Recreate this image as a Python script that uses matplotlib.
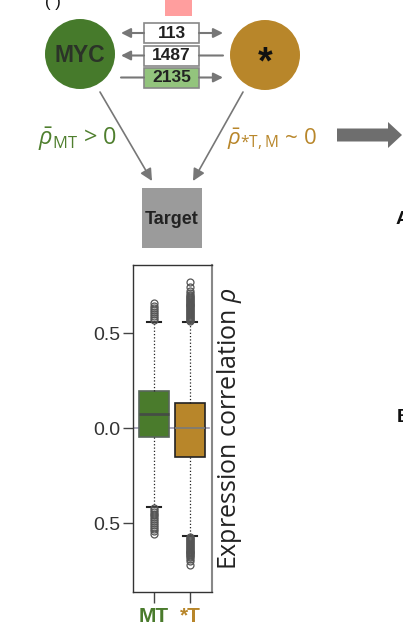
import matplotlib.pyplot as plt
import matplotlib.patches as mpatches
import numpy as np

plt.rcParams['mathtext.fontset'] = 'custom'
plt.rcParams['mathtext.rm'] = 'Open Sans'
plt.rcParams['mathtext.it'] = 'Open Sans:italic'

# counts in the boxes between MYC and *
counts = ["113", "1487", "2135"]
count_fill = ["white", "white", "#93c47d"]

# box plot summary (expression correlation rho)
groups = ["MT", "*T"]
group_colors = ["#4a7b2c", "#b8862a"]
whislo = [-0.415, -0.57]
q1 = [-0.047, -0.153]
med = [0.074, 0.0]
q3 = [0.195, 0.13]
whishi = [0.56, 0.56]
mt_fliers = [0.57, 0.58, 0.59, 0.60, 0.61, 0.62, 0.63, 0.64, 0.66,
             -0.42, -0.43, -0.44, -0.45, -0.46, -0.47, -0.48, -0.49,
             -0.50, -0.51, -0.52, -0.53, -0.54, -0.56]
t_fliers = [0.565, 0.57, 0.575, 0.58, 0.585, 0.59, 0.595, 0.60, 0.605, 0.61,
            0.615, 0.62, 0.625, 0.63, 0.635, 0.64, 0.645, 0.65, 0.655, 0.66,
            0.665, 0.67, 0.675, 0.68, 0.685, 0.69, 0.695, 0.70, 0.71, 0.72,
            0.74, 0.77,
            -0.575, -0.58, -0.585, -0.59, -0.595, -0.60, -0.605, -0.61,
            -0.615, -0.62, -0.625, -0.63, -0.635, -0.64, -0.645, -0.65,
            -0.655, -0.66, -0.665, -0.67, -0.675, -0.68, -0.69, -0.70, -0.72]
ytick_vals = [0.5, 0.0, -0.5]
ytick_text = ["0.5", "0.0", "0.5"]

fig = plt.figure(figsize=(4.03, 6.32), dpi=100)

# diagram layer in pixel coordinates
ax0 = fig.add_axes([0, 0, 1, 1])
ax0.set_xlim(0, 403)
ax0.set_ylim(632, 0)
ax0.axis('off')

grey = '#777777'
ax0.add_patch(mpatches.Rectangle((165, -2), 27, 18, color='#ff9e9e', lw=0))
ax0.text(53, 3, "( )", ha='center', va='center', fontsize=12, color='#111111',
         fontfamily='Liberation Sans')

ax0.add_patch(mpatches.Circle((80, 54), 35, color='#467a2b', lw=0))
ax0.text(80, 56, "MYC", ha='center', va='center', fontsize=16.5, fontweight='bold',
         color='#2b3328', fontfamily='Liberation Sans')
ax0.add_patch(mpatches.Circle((265, 55), 35, color='#b8862a', lw=0))
ax0.text(265, 63, "*", ha='center', va='center', fontsize=27, fontweight='bold',
         color='#111111', fontfamily='Liberation Sans')

row_y = [33, 55.5, 77.5]
left_head = [True, True, False]
right_head = [True, False, True]
for i, lab in enumerate(counts):
    y = row_y[i]
    ax0.add_patch(mpatches.Rectangle((144, y - 10), 55, 20, facecolor=count_fill[i],
                                     edgecolor='#888888', lw=1.2))
    ax0.text(171.5, y + 0.5, lab, ha='center', va='center', fontsize=12.5,
             fontweight='bold', color='#222222', fontfamily='Liberation Sans')
    st = '-|>' if left_head[i] else '-'
    ax0.annotate('', xy=(121, y), xytext=(144, y),
                 arrowprops=dict(arrowstyle=st, color=grey, lw=1.5, mutation_scale=14,
                                 shrinkA=0, shrinkB=0))
    st = '-|>' if right_head[i] else '-'
    ax0.annotate('', xy=(223, y), xytext=(199, y),
                 arrowprops=dict(arrowstyle=st, color=grey, lw=1.5, mutation_scale=14,
                                 shrinkA=0, shrinkB=0))

ax0.annotate('', xy=(152, 181), xytext=(100, 92),
             arrowprops=dict(arrowstyle='-|>', color=grey, lw=1.2, mutation_scale=18,
                             shrinkA=0, shrinkB=0))
ax0.annotate('', xy=(193, 181), xytext=(243, 92),
             arrowprops=dict(arrowstyle='-|>', color=grey, lw=1.2, mutation_scale=18,
                             shrinkA=0, shrinkB=0))

ax0.text(38, 139, r'$\bar{\rho}_{\mathrm{MT}}$ > 0', ha='left', va='center',
         fontsize=17, color='#4f7f2e', fontfamily='Open Sans')
ax0.text(227, 139, r'$\bar{\rho}_{*\mathrm{T,M}}$ ~ 0', ha='left', va='center',
         fontsize=16, color='#b8862a', fontfamily='Open Sans')

ax0.add_patch(mpatches.Rectangle((142, 188), 60, 60, color='#9b9b9b', lw=0))
ax0.text(172, 219, "Target", ha='center', va='center', fontsize=13, fontweight='bold',
         color='#222222', fontfamily='Liberation Sans')

ax0.add_patch(mpatches.Polygon([(337, 128.5), (388, 128.5), (388, 122), (402, 135),
                                (388, 148), (388, 141.5), (337, 141.5)],
                               closed=True, color='#6e6e6e', lw=0))
ax0.text(396, 220, "A", ha='left', va='center', fontsize=14, fontweight='bold',
         color='#111111', fontfamily='Liberation Sans')
ax0.text(397, 418, "B", ha='left', va='center', fontsize=14, fontweight='bold',
         color='#111111', fontfamily='Liberation Sans')

# box plot
ax = fig.add_axes([133 / 403, (632 - 592) / 632, (212 - 133) / 403, (592 - 265) / 632])
ax.axhline(0, color='#9c9ab2', lw=1.2, ls='--', zorder=0)
fliers = [mt_fliers, t_fliers]
stats = []
for i in range(len(groups)):
    stats.append(dict(label=groups[i], whislo=whislo[i], q1=q1[i], med=med[i],
                      q3=q3[i], whishi=whishi[i], fliers=fliers[i]))
bp = ax.bxp(stats, positions=[1, 2], widths=0.83, capwidths=0.38, patch_artist=True,
            boxprops=dict(lw=1.2),
            whiskerprops=dict(ls=':', lw=0.9, color='#222222'),
            capprops=dict(lw=1.5, color='#222222'),
            medianprops=dict(lw=2, color='#454d44'),
            flierprops=dict(marker='o', ms=5, mfc='none', mec='#555555', mew=0.9))
bp['boxes'][0].set_facecolor(group_colors[0])
bp['boxes'][0].set_edgecolor('#58665a')
bp['boxes'][1].set_facecolor(group_colors[1])
bp['boxes'][1].set_edgecolor('#222222')
bp['medians'][1].set_color('#7a7a7a')
bp['medians'][1].set_linewidth(1.2)

ax.set_xlim(0.417, 2.61)
ax.set_ylim(-0.863, 0.858)
ax.set_yticks(ytick_vals)
ax.set_yticklabels(ytick_text, fontsize=14, color='#333333', fontfamily='Liberation Sans')
ax.set_xticks([1, 2])
ax.set_xticklabels([])
ax.tick_params(axis='y', length=7, width=1, color='#444444', pad=2)
ax.tick_params(axis='x', length=8, width=1, color='#444444')
for sp in ax.spines.values():
    sp.set_color('#333333')
    sp.set_linewidth(1)
ax.spines['right'].set_color('#888888')
ax.spines['right'].set_linewidth(1.5)
ax.set_ylabel(r'Expression correlation $\rho$', fontsize=18, color='#222222',
              fontfamily='Open Sans', labelpad=2)
ax.yaxis.set_label_position('right')
for i, g in enumerate(groups):
    ax.text(i + 1, -0.99, g, ha='center', va='center', fontsize=15, fontweight='bold',
            color=group_colors[i], fontfamily='Liberation Sans')

fig.savefig('out.png', dpi=100)
